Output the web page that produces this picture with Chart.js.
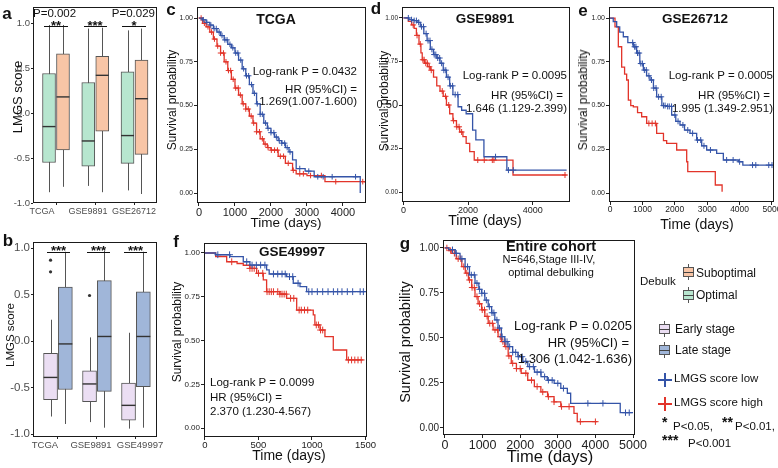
<!DOCTYPE html>
<html>
<head>
<meta charset="utf-8">
<title>LMGS score and survival</title>
<script src="https://cdn.jsdelivr.net/npm/chart.js@4.4.1/dist/chart.umd.min.js"></script>
<style>
  html, body { margin: 0; padding: 0; background: #fff; }
  #fig { position: relative; width: 778px; height: 468px; overflow: hidden; background: #fff;
         font-family: 'Liberation Sans', Arial, Helvetica, sans-serif; color: #111; }
  #fig canvas { position: absolute; }
  .t { position: absolute; white-space: nowrap; line-height: 1; }
  .ln { position: absolute; background: #111; }
  .box { position: absolute; box-sizing: border-box; border: 1px solid #555; }
</style>
</head>
<body>
<div id="fig">
  <canvas id="cA"></canvas>
  <canvas id="cB"></canvas>
  <canvas id="cC"></canvas>
  <canvas id="cD"></canvas>
  <canvas id="cE"></canvas>
  <canvas id="cF"></canvas>
  <canvas id="cG"></canvas>
</div>
<script>
// ─── Panel a: LMGS score by debulking ──────────────────────────────────────
const aGroups = ['TCGA', 'GSE9891', 'GSE26712'];
const aLabelAt = [0.643, 1.815, 2.987];      // where the category names are printed
const optQ1  = [-0.55, -0.59, -0.56];
const optMed = [-0.15, -0.31, -0.25];
const optQ3  = [0.44, 0.34, 0.46];
const optLo  = [-0.88, -0.81, -0.86];
const optHi  = [0.98, 0.94, 0.92];
const subQ1  = [-0.41, -0.20, -0.46];
const subMed = [0.18, 0.42, 0.16];
const subQ3  = [0.66, 0.63, 0.59];
const subLo  = [-0.82, -0.88, -0.90];
const subHi  = [0.98, 0.95, 0.94];

// ─── Panel b: LMGS score by stage ──────────────────────────────────────────
const bGroups  = ['TCGA', 'GSE9891', 'GSE49997'];
const bLabelAt = [0.668, 1.847, 3.104];
const earlyQ1  = [-0.63, -0.65, -0.85];
const earlyMed = [-0.39, -0.46, -0.69];
const earlyQ3  = [-0.13, -0.32, -0.45];
const earlyLo  = [-0.81, -0.87, -0.94];
const earlyHi  = [0.23, 0.04, 0.09];
const lateQ1   = [-0.52, -0.54, -0.49];
const lateMed  = [-0.03, 0.05, 0.05];
const lateQ3   = [0.58, 0.65, 0.53];
const lateLo   = [-0.89, -0.93, -0.93];
const lateHi   = [0.96, 0.97, 0.96];
const earlyOutGroup = [1, 1, 2];
const earlyOutValue = [0.87, 0.745, 0.49];

const boxTicks = [-1, -0.5, 0, 0.5, 1];
const kmYTicks = [0, 0.25, 0.5, 0.75, 1];

// ─── Panel c: TCGA ─────────────────────────────────────────────────────────
const cLowT = [0, 100, 200, 300, 400, 500, 600, 700, 800, 900, 1000, 1100, 1200, 1300, 1400, 1500, 1600, 1700, 1800, 1900, 2000, 2100, 2200, 2300, 2400, 2500, 2600, 2700, 2950, 3200, 4480];
const cLowS = [1.00, 0.99, 0.975, 0.96, 0.94, 0.92, 0.90, 0.875, 0.85, 0.83, 0.80, 0.76, 0.71, 0.67, 0.62, 0.57, 0.51, 0.45, 0.40, 0.37, 0.345, 0.32, 0.30, 0.285, 0.26, 0.235, 0.19, 0.14, 0.125, 0.093, 0.0];
const cLowCens = [120, 220, 330, 420, 480, 560, 640, 720, 780, 860, 940, 1020, 1080, 1160, 1240, 1320, 1380, 1460, 1540, 1620, 1700, 1760, 1850, 1920, 2000, 2080, 2150, 2230, 2300, 2380, 2450, 2530, 2800, 3050, 3300, 3450, 3700, 4350];
const cHighT = [0, 100, 200, 300, 400, 500, 600, 700, 800, 900, 1000, 1100, 1200, 1300, 1400, 1500, 1600, 1700, 1800, 1900, 2000, 2200, 2400, 2600, 2700, 3000, 3500, 4600];
const cHighS = [1.00, 0.97, 0.95, 0.92, 0.88, 0.84, 0.80, 0.75, 0.70, 0.65, 0.60, 0.56, 0.51, 0.48, 0.44, 0.40, 0.35, 0.31, 0.28, 0.26, 0.245, 0.21, 0.17, 0.13, 0.11, 0.10, 0.065, 0.06];
const cHighCens = [60, 150, 250, 350, 430, 520, 600, 680, 750, 820, 880, 950, 1020, 1090, 1150, 1230, 1300, 1370, 1450, 1520, 1600, 1680, 1760, 1840, 1920, 2010, 2100, 2180, 2260, 2350, 2480, 2620, 2800, 2900, 3100, 3400, 3800, 4550];

// ─── Panel d: GSE9891 ──────────────────────────────────────────────────────
const dLowT = [0, 170, 300, 420, 520, 630, 730, 830, 930, 1030, 1130, 1230, 1330, 1430, 1530, 1690, 1800, 1940, 2140, 2240, 2490, 3200, 5050];
const dLowS = [1.00, 0.99, 0.985, 0.975, 0.95, 0.91, 0.87, 0.82, 0.79, 0.77, 0.74, 0.70, 0.66, 0.61, 0.56, 0.49, 0.47, 0.45, 0.356, 0.30, 0.203, 0.126, 0.126];
const dLowCens = [150, 250, 330, 400, 470, 560, 620, 700, 760, 820, 880, 950, 1000, 1060, 1120, 1180, 1250, 1310, 1380, 1450, 1520, 1600, 1680, 2850, 3250, 3400];
const dHighT = [0, 150, 250, 330, 400, 480, 540, 580, 650, 750, 830, 930, 1030, 1130, 1230, 1330, 1430, 1530, 1640, 1740, 1840, 1940, 2050, 2190, 3390, 5050];
const dHighS = [1.00, 0.98, 0.96, 0.94, 0.90, 0.85, 0.80, 0.76, 0.74, 0.72, 0.70, 0.66, 0.61, 0.58, 0.55, 0.50, 0.45, 0.41, 0.375, 0.345, 0.318, 0.28, 0.232, 0.184, 0.098, 0.098];
const dHighCens = [300, 420, 520, 600, 640, 690, 740, 800, 860, 1200, 1300, 1400, 1550, 1650, 1720, 1800, 2300, 2500, 2750, 2800, 5000];

// ─── Panel e: GSE26712 ─────────────────────────────────────────────────────
const eLowT = [0, 100, 206, 300, 411, 550, 720, 823, 920, 1029, 1130, 1235, 1340, 1440, 1600, 1749, 1903, 2030, 2160, 2300, 2469, 2675, 2830, 2984, 3292, 3498, 3961, 4100, 5050];
const eLowS = [1.00, 0.98, 0.95, 0.92, 0.893, 0.86, 0.836, 0.80, 0.74, 0.703, 0.67, 0.646, 0.60, 0.55, 0.50, 0.495, 0.446, 0.41, 0.389, 0.36, 0.341, 0.303, 0.27, 0.246, 0.227, 0.189, 0.179, 0.16, 0.16];
const eLowCens = [700, 760, 800, 850, 900, 950, 1000, 1060, 1120, 1200, 1280, 1350, 1420, 1500, 1580, 1650, 1700, 1780, 1830, 1900, 2000, 2100, 2250, 2400, 2550, 2700, 2800, 2900, 3100, 3600, 3800, 4000, 4400, 4500, 4900, 5000];
const eHighT = [0, 154, 257, 360, 450, 514, 566, 640, 720, 850, 977, 1132, 1440, 1650, 1749, 2058, 2367, 2400, 3250, 3460];
const eHighS = [1.00, 0.95, 0.836, 0.72, 0.68, 0.646, 0.531, 0.50, 0.493, 0.46, 0.436, 0.398, 0.341, 0.30, 0.284, 0.246, 0.179, 0.122, 0.046, 0.008];
const eHighCens = [1200, 1300, 1400];

// ─── Panel f: GSE49997 ─────────────────────────────────────────────────────
const fLowT = [0, 100, 234, 358, 420, 576, 600, 763, 825, 888, 950, 1500];
const fLowS = [1.00, 0.99, 0.979, 0.95, 0.931, 0.903, 0.88, 0.865, 0.827, 0.808, 0.779, 0.779];
const fLowCens = [120, 230, 390, 440, 480, 520, 560, 640, 680, 720, 750, 790, 820, 870, 970, 1000, 1050, 1100, 1150, 1200, 1240, 1280, 1330, 1380, 1450, 1480];
const fHighT = [0, 100, 203, 300, 358, 420, 483, 545, 576, 700, 763, 857, 1012, 1027, 1075, 1121, 1199, 1324, 1480];
const fHighS = [1.00, 0.98, 0.95, 0.94, 0.93, 0.912, 0.884, 0.846, 0.779, 0.765, 0.741, 0.674, 0.646, 0.589, 0.56, 0.522, 0.446, 0.389, 0.389];
const fHighCens = [250, 420, 440, 460, 500, 540, 580, 600, 620, 640, 680, 700, 720, 740, 760, 800, 830, 880, 900, 930, 960, 1040, 1060, 1080, 1100, 1340, 1370, 1400, 1430, 1460];

// ─── Panel g: entire cohort ────────────────────────────────────────────────
const gLowT = [0, 100, 272, 400, 535, 650, 798, 900, 974, 1060, 1149, 1240, 1325, 1410, 1500, 1590, 1675, 1800, 1939, 2070, 2202, 2380, 2553, 2720, 2903, 3080, 3254, 3342, 4660, 5000];
const gLowS = [1.00, 0.99, 0.97, 0.94, 0.896, 0.85, 0.804, 0.77, 0.748, 0.71, 0.674, 0.64, 0.60, 0.555, 0.507, 0.48, 0.452, 0.42, 0.396, 0.37, 0.341, 0.31, 0.285, 0.265, 0.248, 0.22, 0.193, 0.137, 0.085, 0.085];
const gLowCens = [200, 300, 450, 600, 700, 780, 850, 920, 980, 1050, 1100, 1180, 1250, 1300, 1380, 1450, 1520, 1600, 1650, 1720, 1800, 1880, 1950, 2050, 2150, 2250, 2350, 2450, 2550, 2650, 2750, 2850, 3000, 3150, 3800, 4200, 4800, 4900];
const gHighT = [0, 100, 184, 300, 447, 540, 623, 710, 798, 880, 974, 1060, 1149, 1280, 1412, 1500, 1588, 1680, 1763, 1900, 2026, 2200, 2377, 2550, 2728, 2900, 3079, 3430, 3517, 4050];
const gHighS = [1.00, 0.985, 0.97, 0.94, 0.896, 0.86, 0.822, 0.78, 0.73, 0.69, 0.656, 0.62, 0.581, 0.545, 0.507, 0.48, 0.452, 0.40, 0.359, 0.33, 0.304, 0.265, 0.23, 0.20, 0.174, 0.145, 0.119, 0.081, 0.035, 0.035];
const gHighCens = [50, 150, 250, 350, 420, 500, 580, 650, 720, 780, 850, 920, 990, 1050, 1120, 1190, 1260, 1330, 1400, 1470, 1540, 1620, 1700, 1800, 1900, 2000, 2150, 2300, 2450, 2600, 2750, 2900, 3100, 3300, 3600, 4000];

// ─── Styling ───────────────────────────────────────────────────────────────
const BLUE = '#3454a8', RED = '#e2342a';
const C_OPT = '#b7e6cf', C_SUB = '#f8c5a6', C_EARLY = '#ebdef3', C_LATE = '#a0b6d9';
const PT = 10, PR = 18;   // canvas padding above / right of the frame
const fig = document.getElementById('fig');

Chart.defaults.font.family = "'Liberation Sans', Arial, Helvetica, sans-serif";

function stepAt(T, S, t) {
    let v = S[0];
    for (let i = 0; i < T.length; i++) if (T[i] <= t) v = S[i];
    return v;
}

// place a canvas so that its chart area lands on frame f
function place(id, f) {
    const c = document.getElementById(id);
    const w = f.r - f.l + f.yw + PR, h = f.b - f.t + PT + f.xh;
    c.width = w; c.height = h;
    c.style.left = (f.l - f.yw) + 'px';
    c.style.top  = (f.t - PT) + 'px';
    c.style.width = w + 'px'; c.style.height = h + 'px';
    return c;
}

function scale(min, max, ticks, size, fmt, color) {
    return {
        type: 'linear', min, max, offset: false,
        afterBuildTicks: s => { s.ticks = ticks.map(v => ({ value: v })); },
        ticks: { autoSkip: false, maxRotation: 0, minRotation: 0, font: { size }, color: color || '#222', padding: 1, callback: fmt },
        grid: { display: true, offset: false, drawOnChartArea: false, drawTicks: true, tickLength: 3, color: '#222' },
        border: { display: false }
    };
}

function baseOptions(f, scales) {
    if (!scales.x.afterFit) scales.x.afterFit = s => { s.height = f.xh; };
    scales.y.afterFit = s => { s.width = f.yw; };
    return {
        responsive: false, animation: false, devicePixelRatio: 1, events: [],
        layout: { padding: { top: PT, right: PR, left: 0, bottom: 0 } },
        plugins: { legend: { display: false }, tooltip: { enabled: false } },
        scales
    };
}

const framePlugin = {
    id: 'frame',
    afterDraw(chart) {
        const a = chart.chartArea, ctx = chart.ctx;
        ctx.save();
        ctx.strokeStyle = '#1a1a1a'; ctx.lineWidth = 1;
        ctx.strokeRect(Math.round(a.left) + 0.5, Math.round(a.top) + 0.5,
                       Math.round(a.right - a.left) - 1, Math.round(a.bottom - a.top) - 1);
        ctx.restore();
    }
};

// whiskers behind the boxes, medians on top
const boxParts = {
    id: 'boxParts',
    beforeDatasetsDraw(chart) {
        const { ctx, scales: { x, y } } = chart;
        chart.data.datasets.forEach(ds => {
            if (!ds.med) return;
            ctx.save(); ctx.strokeStyle = '#555'; ctx.lineWidth = 1;
            ds.data.forEach((d, i) => {
                const px = Math.round(x.getPixelForValue(d.x)) + 0.5;
                ctx.beginPath();
                ctx.moveTo(px, y.getPixelForValue(ds.hi[i]));
                ctx.lineTo(px, y.getPixelForValue(ds.lo[i]));
                ctx.stroke();
            });
            ctx.restore();
        });
    },
    afterDatasetsDraw(chart) {
        const { ctx, scales: { x, y } } = chart;
        chart.data.datasets.forEach(ds => {
            if (!ds.med) return;
            ctx.save(); ctx.strokeStyle = '#333'; ctx.lineWidth = 1.4;
            ds.data.forEach((d, i) => {
                const px = x.getPixelForValue(d.x), py = y.getPixelForValue(ds.med[i]);
                ctx.beginPath();
                ctx.moveTo(px - ds.barThickness / 2, py);
                ctx.lineTo(px + ds.barThickness / 2, py);
                ctx.stroke();
            });
            ctx.restore();
        });
    }
};

function boxSet(n, left, right, off, thick) {
    const data = [], bg = [], med = [], lo = [], hi = [];
    for (let i = 0; i < n; i++) {
        [[left, -off], [right, off]].forEach(([b, d]) => {
            data.push({ x: i + 1 + d, y: [b.q1[i], b.q3[i]] });
            bg.push(b.color); med.push(b.med[i]); lo.push(b.lo[i]); hi.push(b.hi[i]);
        });
    }
    return { type: 'bar', data, backgroundColor: bg, borderColor: '#555', borderWidth: 1,
             borderSkipped: false, barThickness: thick, med, lo, hi };
}

// tick marks on x at the box pairs, names on a second axis underneath
function boxChart(id, f, xr, yr, groups, labelAt, sets, fx, fy) {
    const sx = scale(xr[0], xr[1], [1, 2, 3], fx, () => '', '#4d4d4d');
    sx.ticks.display = false;
    sx.grid.tickLength = 2;
    sx.weight = 0;
    sx.afterFit = s => { s.height = 2; };
    const sxl = scale(xr[0], xr[1], labelAt, fx, (v, i) => groups[i], '#4d4d4d');
    sxl.position = 'bottom';
    sxl.weight = 1;
    sxl.grid = { display: false, drawTicks: false, tickLength: 0 };
    sxl.ticks.padding = 1;
    sxl.afterFit = s => { s.height = f.xh - 2; };
    const sy = scale(yr[0], yr[1], boxTicks, fy, v => v.toFixed(1), '#4d4d4d');
    sy.grid.tickLength = 2;
    return new Chart(place(id, f), {
        type: 'bar',
        data: { datasets: sets },
        options: baseOptions(f, { x: sx, xl: sxl, y: sy }),
        plugins: [boxParts, framePlugin]
    });
}

function stepSet(T, S, col) {
    return { type: 'line', data: T.map((t, i) => ({ x: t, y: S[i] })), stepped: true,
             borderColor: col, borderWidth: 1.3, pointRadius: 0, fill: false };
}
function censSet(T, S, cens, col, r) {
    return { type: 'scatter', data: cens.map(t => ({ x: t, y: stepAt(T, S, t) })), showLine: false,
             pointStyle: 'cross', pointRadius: r, borderColor: col, backgroundColor: col, borderWidth: 1 };
}

function kmChart(id, f, xr, xt, yr, fx, fy, r, low, high) {
    const sx = scale(xr[0], xr[1], xt, fx, v => String(v));
    sx.ticks.padding = 0;
    const sy = scale(yr[0], yr[1], kmYTicks, fy, v => v.toFixed(2));
    return new Chart(place(id, f), {
        type: 'line',
        data: { datasets: [
            stepSet(low[0], low[1], BLUE), censSet(low[0], low[1], low[2], BLUE, r),
            stepSet(high[0], high[1], RED), censSet(high[0], high[1], high[2], RED, r)
        ] },
        options: baseOptions(f, { x: sx, y: sy }),
        plugins: [framePlugin]
    });
}

// ─── Charts ────────────────────────────────────────────────────────────────
boxChart('cA', { l: 33, t: 7, r: 157, b: 203, yw: 30, xh: 18 }, [0.414, 3.573], [-1.0, 1.18], aGroups, aLabelAt, [
    boxSet(3, { q1: optQ1, med: optMed, q3: optQ3, lo: optLo, hi: optHi, color: C_OPT },
              { q1: subQ1, med: subMed, q3: subQ3, lo: subLo, hi: subHi, color: C_SUB }, 0.178, 13)
], 9, 9.5);

boxChart('cB', { l: 33, t: 242, r: 157, b: 437, yw: 30, xh: 18 }, [0.36, 3.54], [-1.03, 1.065], bGroups, bLabelAt, [
    boxSet(3, { q1: earlyQ1, med: earlyMed, q3: earlyQ3, lo: earlyLo, hi: earlyHi, color: C_EARLY },
              { q1: lateQ1, med: lateMed, q3: lateQ3, lo: lateLo, hi: lateHi, color: C_LATE }, 0.19, 14),
    { type: 'scatter', data: earlyOutGroup.map((g, i) => ({ x: g - 0.19, y: earlyOutValue[i] })),
      pointRadius: 1.6, backgroundColor: '#333', borderWidth: 0 }
], 9.5, 11.5);

kmChart('cC', { l: 197, t: 7, r: 366, b: 203, yw: 24, xh: 16 }, [-55, 4640], [0, 1000, 2000, 3000, 4000],
    [-0.057, 1.063], 11, 7, 2.8, [cLowT, cLowS, cLowCens], [cHighT, cHighS, cHighCens]);

const dChart = kmChart('cD', { l: 402, t: 7, r: 570, b: 202, yw: 26, xh: 14 }, [-46, 5155], [0, 2000, 4000],
    [-0.057, 1.063], 9, 6.5, 3, [dLowT, dLowS, dLowCens], [dHighT, dHighS, dHighCens]);
dChart.options.scales.y.ticks.font = ctx => ({ size: ctx.tick && ctx.tick.value === 0.5 ? 11 : 6.5 });
dChart.update();

kmChart('cE', { l: 609, t: 7, r: 774, b: 202, yw: 22, xh: 14 }, [-31, 5062], [0, 1000, 2000, 3000, 4000, 5000],
    [-0.051, 1.063], 8.5, 7, 3, [eLowT, eLowS, eLowCens], [eHighT, eHighS, eHighCens]);

kmChart('cF', { l: 204, t: 243, r: 367, b: 437, yw: 24, xh: 14 }, [-9, 1514], [0, 500, 1000, 1500],
    [-0.051, 1.057], 9.5, 8, 3.4, [fLowT, fLowS, fLowCens], [fHighT, fHighS, fHighCens]);

kmChart('cG', { l: 443, t: 240, r: 635, b: 435, yw: 30, xh: 16 }, [-53, 5053], [0, 1000, 2000, 3000, 4000, 5000],
    [-0.039, 1.044], 12.5, 10, 3.2, [gLowT, gLowS, gLowCens], [gHighT, gHighS, gHighCens]);

// ─── Text and legend ───────────────────────────────────────────────────────
function txt(s, x, y, size, o) {
    o = o || {};
    const d = document.createElement('div');
    d.className = 't';
    d.textContent = s;
    d.style.fontSize = size + 'px';
    if (o.b) d.style.fontWeight = 'bold';
    if (o.c) d.style.color = o.c;
    const ax = o.a === 'r' ? '-100%' : o.a === 'l' ? '0' : '-50%';
    d.style.left = x + 'px';
    d.style.top = y + 'px';
    d.style.transform = 'translate(' + ax + ',-50%)' + (o.rot ? ' rotate(-90deg)' : '');
    fig.appendChild(d);
}
// asterisks sit high in the em box: y is the glyph centre
function stars(s, x, y, size, a) { txt(s, x, y + 0.236 * size, size, { b: 1, a: a }); }
function hline(x1, x2, y) {
    const d = document.createElement('div');
    d.className = 'ln';
    d.style.left = x1 + 'px'; d.style.top = y + 'px';
    d.style.width = (x2 - x1) + 'px'; d.style.height = '1px';
    fig.appendChild(d);
}
function vline(x, y1, y2, col, w) {
    const d = document.createElement('div');
    d.className = 'ln';
    d.style.left = x + 'px'; d.style.top = y1 + 'px';
    d.style.width = (w || 1) + 'px'; d.style.height = (y2 - y1) + 'px';
    if (col) d.style.background = col;
    fig.appendChild(d);
    return d;
}
function boxIcon(x, y, col) {
    vline(x + 5, y - 3, y + 13, '#555');
    const b = document.createElement('div');
    b.className = 'box';
    b.style.left = x + 'px'; b.style.top = y + 'px';
    b.style.width = '11px'; b.style.height = '10px'; b.style.background = col;
    fig.appendChild(b);
    const m = vline(x, y + 4.5, y + 5.5, '#444');
    m.style.width = '11px';
}
function crossIcon(cx, cy, col) {
    vline(cx - 1, cy - 7, cy + 7, col, 2);
    const h = vline(cx - 7, cy - 1, cy + 1, col);
    h.style.width = '14px';
}

// panel letters
txt('a', 7, 13, 17, { b: 1 });
txt('c', 171, 9, 17, { b: 1 });
txt('d', 376, 8, 17, { b: 1 });
txt('e', 583, 10, 17, { b: 1 });
txt('b', 8, 240, 17, { b: 1 });
txt('f', 176, 241, 17, { b: 1 });
txt('g', 405, 243, 17, { b: 1 });

// panel a / b annotations
txt('P=0.002', 33, 14, 11.5, { a: 'l' });
txt('P=0.029', 155, 14, 11.5, { a: 'r' });
stars('**', 56, 22, 13); hline(44, 68, 26);
stars('***', 95, 22, 13); hline(84, 107, 26);
stars('*', 134, 22, 13); hline(122, 146, 26);
stars('***', 58.5, 247, 13); hline(47, 70, 252);
stars('***', 98.5, 247, 13); hline(87, 110, 252);
stars('***', 135.5, 247, 13); hline(124, 147, 252);

// axis titles
txt('LMGS score', 17, 97, 13, { rot: 1 });
txt('LMGS score', 11, 335, 11.5, { rot: 1 });
txt('Survival probability', 172, 100, 12, { rot: 1 });
txt('Survival probability', 384, 101, 12, { rot: 1 });
txt('Survival probability', 583, 100, 12, { rot: 1 });
txt('Survival probability', 177, 332, 12, { rot: 1 });
txt('Survival probability', 405, 342, 14.5, { rot: 1 });
txt('Time (days)', 286, 223, 13.5);
txt('Time (days)', 485, 220, 14);
txt('Time (days)', 697, 224, 14);
txt('Time (days)', 289, 455, 14);
txt('Time (days)', 550, 456, 16.5);

// KM titles and statistics
txt('TCGA', 276, 19, 14, { b: 1 });
txt('GSE9891', 485, 19, 13.5, { b: 1 });
txt('GSE26712', 695, 19, 13.5, { b: 1 });
txt('GSE49997', 292, 252, 13.5, { b: 1 });
txt('Entire cohort', 551, 246, 14.5, { b: 1 });
txt('N=646,Stage III-IV,', 549, 259, 11);
txt('optimal debulking', 551, 272, 11);

txt('Log-rank P = 0.0432', 357, 71.5, 11.5, { a: 'r' });
txt('HR (95%CI) =', 357, 90, 11.5, { a: 'r' });
txt('1.269(1.007-1.600)', 357, 102, 11.5, { a: 'r' });
txt('Log-rank P = 0.0095', 567, 76, 11.5, { a: 'r' });
txt('HR (95%CI) =', 563, 96, 11.5, { a: 'r' });
txt('1.646 (1.129-2.399)', 567, 109, 11.5, { a: 'r' });
txt('Log-rank P = 0.0005', 773, 75.5, 11.5, { a: 'r' });
txt('HR (95%CI) =', 770, 96, 11.5, { a: 'r' });
txt('1.995 (1.349-2.951)', 773, 108.5, 11.5, { a: 'r' });
txt('Log-rank P = 0.0099', 210, 383, 11.5, { a: 'l' });
txt('HR (95%CI) =', 210, 397.5, 11.5, { a: 'l' });
txt('2.370 (1.230-4.567)', 210, 412, 11.5, { a: 'l' });
txt('Log-rank P = 0.0205', 632, 324.5, 13, { a: 'r' });
txt('HR (95%CI) =', 629, 342, 13, { a: 'r' });
txt('1.306 (1.042-1.636)', 632, 358, 13, { a: 'r' });

// legend
txt('Debulk', 640, 282, 11.5, { a: 'l' });
boxIcon(683, 267, C_SUB);   txt('Suboptimal', 696, 273, 12, { a: 'l' });
boxIcon(683, 290, C_OPT);   txt('Optimal', 696, 295, 12, { a: 'l' });
boxIcon(659, 324, C_EARLY); txt('Early stage', 675, 329, 12, { a: 'l' });
boxIcon(659, 345, C_LATE);  txt('Late stage', 675, 350, 12, { a: 'l' });
crossIcon(665, 380, BLUE);  txt('LMGS score low', 674, 379, 11.5, { a: 'l' });
crossIcon(665, 404, RED);   txt('LMGS score high', 674, 403, 11.5, { a: 'l' });
stars('*', 662, 419, 14, 'l');   txt('P<0.05,', 673, 427, 11.5, { a: 'l' });
stars('**', 722, 419, 14, 'l');  txt('P<0.01,', 735, 427, 11.5, { a: 'l' });
stars('***', 662, 437, 14, 'l'); txt('P<0.001', 688, 444, 11.5, { a: 'l' });
</script>
</body>
</html>
